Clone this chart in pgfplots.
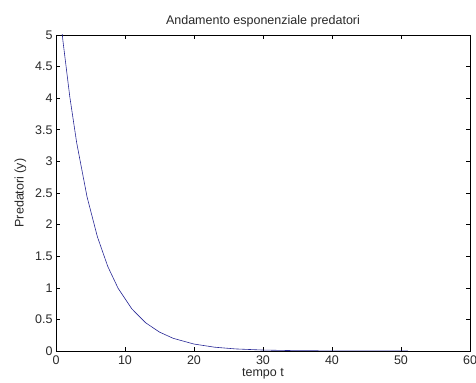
\documentclass[border=0pt]{standalone}
\usepackage{fontspec}
\setmainfont{Liberation Sans}
\usepackage{pgfplots}
\pgfplotsset{compat=1.18}
\definecolor{linecol}{RGB}{40,40,150}
\definecolor{txt}{RGB}{40,40,40}
\begin{document}
\begin{tikzpicture}
\begin{axis}[
  scale only axis,
  width=414bp, height=316bp,
  xmin=0, xmax=60, ymin=0, ymax=5,
  xtick={0,10,20,30,40,50,60},
  ytick={0,0.5,1,1.5,2,2.5,3,3.5,4,4.5,5},
  tick align=inside,
  tick pos=both,
  major tick length=4bp,
  axis line style={black, line width=0.8pt},
  tick style={black, line width=0.6pt},
  /pgf/number format/assume math mode=true,
  ticklabel style={font=\fontsize{12.5bp}{15bp}\selectfont, text=txt},
  label style={font=\fontsize{12.5bp}{15bp}\selectfont, text=txt},
  title style={font=\fontsize{12.5bp}{15bp}\selectfont, text=txt, yshift=-2bp},
  title={Andamento esponenziale predatori},
  xlabel={tempo t},
  ylabel={Predatori (y)},
  xticklabel style={yshift=-1bp},
  xlabel style={yshift=3bp},
  ylabel style={yshift=2bp},
  yticklabel style={/pgf/number format/fixed},
  clip=true,
]
\addplot[color=linecol, line width=0.6pt] coordinates {
(0,6.000) (1,4.912) (2,4.022) (3,3.293) (4.5,2.439) (6,1.807) (7.5,1.339)
(9,0.992) (11,0.665) (13,0.446) (15,0.299) (17,0.200) (20,0.110) (23,0.060)
(26,0.033) (30,0.015) (35,0.005) (40,0.002) (45,0.001) (51,0.000)
};
\end{axis}
\pgfresetboundingbox
\useasboundingbox (-56bp,-32bp) rectangle (420bp,351bp);
\end{tikzpicture}
\end{document}
